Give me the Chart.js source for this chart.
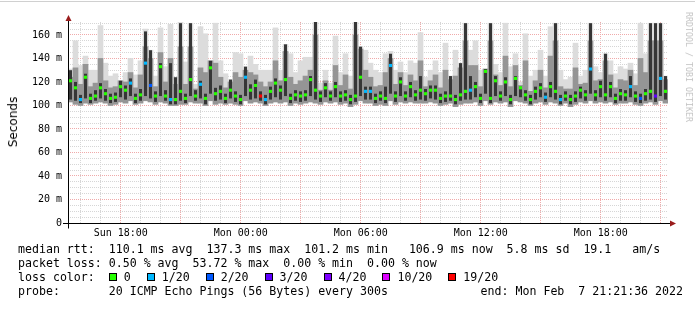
<!DOCTYPE html>
<html>
<head>
<meta charset="utf-8">
<script src="https://cdn.jsdelivr.net/npm/chart.js@4.4.1/dist/chart.umd.min.js"></script>
<style>
  html, body { margin: 0; padding: 0; background: #fff; }
  #wrap { position: relative; width: 695px; height: 309px; overflow: hidden; }
  #topline { position: absolute; left: 0; top: 1px; width: 695px; height: 1px; background: #d0d0d0; }
  canvas { position: absolute; left: 0; top: 0; }
  .txt { position: absolute; left: 18px; font: 11.6px 'DejaVu Sans Mono', monospace; white-space: pre; line-height: 14px; height: 14px; color: #000; }
  #lossrow { display: flex; align-items: center; }
  .sq { display: inline-block; width: 6px; height: 6px; border: 1px solid #000; }
  .lab { margin-left: 7px; margin-right: 16px; }
  #ytitle { position: absolute; left: 13px; top: 122px; transform: translate(-50%, -50%) rotate(-90deg); font: 12px 'DejaVu Sans', sans-serif; color: #000; white-space: nowrap; }
  #brand { position: absolute; left: 689px; top: 67px; transform: translate(-50%, -50%) rotate(90deg); font: 8.3px 'DejaVu Sans Mono', monospace; color: #c4c4c4; white-space: nowrap; }
</style>
</head>
<body>
<div id="wrap">
  <div id="topline"></div>
  <canvas id="chart" width="695" height="309"></canvas>
  <div id="ytitle">Seconds</div>
  <div id="brand">RRDTOOL / TOBI OETIKER</div>
  <div class="txt" style="top:242px">median rtt:  110.1 ms avg  137.3 ms max  101.2 ms min   106.9 ms now  5.8 ms sd  19.1   am/s</div>
  <div class="txt" style="top:256px">packet loss: 0.50 % avg  53.72 % max  0.00 % min  0.00 % now</div>
  <div class="txt" id="lossrow" style="top:270px"><span>loss color:  </span></div>
  <div class="txt" style="top:284px">probe:       20 ICMP Echo Pings (56 Bytes) every 300s</div>
  <div class="txt" style="top:284px; left:auto; right:12px">end: Mon Feb  7 21:21:36 2022</div>
</div>
<script>
// 30 hours shown, start Sun 15:21:36, one sample per 15 minutes
const sampleMinutes = 15;
const hoursShown = 30;
const firstFullHour = 0.64;   // 16:00 relative to start
const firstClockHour = 16;

const tickLabels = ['Sun 18:00', 'Mon 00:00', 'Mon 06:00', 'Mon 12:00', 'Mon 18:00'];
const tickHours = [2.64, 8.64, 14.64, 20.64, 26.64];

const lossLabels = ['0', '1/20', '2/20', '3/20', '4/20', '10/20', '19/20'];
const lossSteps = [0, 1, 2, 3, 4, 10, 19];
const lossColors = ['#26ff00', '#00b8ff', '#0059ff', '#5e00ff', '#7e00ff', '#dd00ff', '#ff0000'];

// median rtt in ms
const median = [
  121,115,105,124,106,108,115,110,106,107,116,113,119,106,109,136,117,108,133,108,
  105,105,112,106,122,108,118,106,132,110,112,106,113,108,105,124,113,117,108,105,
  112,119,113,122,106,109,108,109,122,113,108,115,108,116,108,109,105,108,124,112,
  112,106,108,106,134,108,120,108,116,109,113,110,113,113,106,108,108,105,109,112,
  113,116,106,129,106,121,108,120,105,123,115,109,105,112,115,107,116,112,105,108,
  105,108,113,109,131,109,116,109,116,106,110,109,116,108,106,110,112,108,123,112
];
// lost pings out of 20
const loss = [
  0,0,1,0,0,0,0,0,0,0,0,0,1,0,0,1,2,0,0,0,
  1,0,0,0,0,0,1,0,0,0,0,0,0,0,0,1,0,0,19,1,
  0,0,0,0,0,0,0,0,0,0,0,0,0,0,0,0,0,0,0,1,
  1,0,0,0,1,0,0,0,0,0,0,0,0,0,0,0,0,0,0,0,
  1,0,0,0,0,0,0,0,0,0,0,0,0,0,0,1,0,0,1,0,
  0,0,0,0,1,0,0,0,0,0,0,0,1,0,2,0,0,3,1,0
];
// smoke: fastest and slowest ping
const low = [
  103,101,100,102,101,102,103,102,100,101,103,102,104,101,102,104,103,101,103,102,
  100,100,101,101,103,102,102,100,104,101,102,101,102,101,100,104,102,103,102,100,
  102,103,102,103,100,102,101,102,103,102,101,103,102,103,101,102,99,101,104,102,
  102,100,101,100,104,101,103,102,103,102,102,102,103,102,100,101,102,99,101,102,
  102,103,100,104,101,103,102,103,99,104,103,102,100,102,103,101,103,102,100,102,
  99,101,103,102,104,102,103,102,103,101,102,102,103,101,100,102,103,101,104,102
];
const high = [
  131,155,134,142,130,130,168,136,125,127,121,128,140,126,138,165,147,125,166,133,
  169,124,171,137,170,118,167,161,138,170,138,127,122,145,144,133,142,135,130,130,
  130,166,130,152,144,128,138,141,141,173,119,130,119,159,128,144,125,173,150,147,
  136,130,128,144,146,130,137,128,138,136,162,124,130,138,128,153,125,147,136,170,
  147,155,130,131,170,135,128,170,133,144,120,161,125,130,147,125,167,170,130,122,
  124,153,125,130,170,133,128,144,138,127,133,131,136,127,170,144,170,170,170,125
];
// smoke: middle pings
const midHigh = [
  124,132,118,135,116,119,140,121,115,116,121,120,128,115,126,150,140,116,145,120,
  140,118,150,118,150,114,132,128,138,136,124,115,120,128,124,130,128,126,120,116,
  120,138,121,146,124,118,121,125,130,160,113,121,113,134,117,126,114,160,148,130,
  124,116,117,128,140,118,128,117,126,121,138,116,121,126,115,130,122,125,132,155,
  134,134,116,131,155,126,117,142,116,134,117,138,112,121,130,115,142,155,116,114,
  114,132,118,119,155,121,122,138,126,115,122,121,130,117,140,128,155,155,155,122
];
// smoke: densest pings around the median
const darkLow = [
  105,104,102,106,102,104,106,104,102,103,107,105,108,102,104,108,106,103,108,104,
  101,101,104,102,108,104,106,101,110,104,105,102,106,103,101,108,105,106,104,101,
  105,107,105,108,102,104,103,104,108,105,103,107,104,107,103,104,101,103,108,105,
  105,102,104,102,110,103,108,104,107,104,105,104,106,105,102,103,104,101,104,105,
  105,107,102,110,102,108,104,108,101,108,107,104,101,105,107,103,107,105,101,104,
  101,103,106,104,110,104,107,104,107,102,104,104,107,103,102,104,105,103,108,105
];
const darkHigh = [
  130,120,109,127,110,113,119,114,110,111,121,117,123,110,114,163,147,112,136,113,
  136,124,170,110,170,113,121,110,138,115,117,110,122,112,109,133,118,122,112,109,
  116,123,117,152,110,113,112,113,125,173,112,119,112,120,112,113,109,173,150,116,
  116,110,112,116,144,112,124,112,120,113,125,114,117,117,110,112,125,109,136,170,
  125,120,110,131,170,125,112,124,109,125,116,113,109,116,119,111,120,170,109,112,
  109,112,116,113,170,113,121,144,120,110,114,113,125,112,110,114,170,170,170,125
];

function sampleHour(i) {
  return (i + 0.5) * sampleMinutes / 60;
}

function lossColor(n) {
  let c = lossColors[0];
  lossSteps.forEach((s, k) => { if (n >= s) c = lossColors[k]; });
  return c;
}

// legend boxes
const row = document.getElementById('lossrow');
lossLabels.forEach((l, k) => {
  const sq = document.createElement('span');
  sq.className = 'sq';
  sq.style.background = lossColors[k];
  const lab = document.createElement('span');
  lab.className = 'lab';
  lab.textContent = l;
  row.appendChild(sq);
  row.appendChild(lab);
});

function band(a, b) {
  return a.map((v, i) => ({ x: sampleHour(i), y: [v, b[i]] }));
}

// axis lines with the red arrows
const axesPlugin = {
  id: 'axes',
  afterDatasetsDraw(chart) {
    const { ctx, chartArea: a } = chart;
    const y0 = Math.round(chart.scales.y.getPixelForValue(0)) + 0.5;
    const x0 = Math.round(a.left) + 0.5;
    ctx.save();
    ctx.strokeStyle = '#000';
    ctx.lineWidth = 1;
    ctx.beginPath();
    ctx.moveTo(a.left - 5, y0);
    ctx.lineTo(a.right + 3, y0);
    ctx.moveTo(x0, y0 + 5);
    ctx.lineTo(x0, a.top - 3);
    ctx.stroke();
    ctx.fillStyle = '#9a1c1c';
    ctx.beginPath();
    ctx.moveTo(x0 - 3, a.top - 1);
    ctx.lineTo(x0 + 3, a.top - 1);
    ctx.lineTo(x0, a.top - 7);
    ctx.fill();
    ctx.beginPath();
    ctx.moveTo(a.right + 2, y0 - 3);
    ctx.lineTo(a.right + 2, y0 + 3);
    ctx.lineTo(a.right + 8, y0);
    ctx.fill();
    ctx.restore();
  }
};

const barOpts = { grouped: false, categoryPercentage: 1, borderWidth: 0 };

new Chart(document.getElementById('chart').getContext('2d'), {
  type: 'bar',
  data: {
    datasets: [
      {
        type: 'line',
        data: median.map((v, i) => ({ x: sampleHour(i), y: v })),
        showLine: false,
        pointStyle: 'rect',
        pointRadius: 2.2,
        pointBorderWidth: 0,
        pointBackgroundColor: loss.map(lossColor),
        order: 0
      },
      Object.assign({ data: band(darkLow, darkHigh), backgroundColor: '#363636', barPercentage: 0.6, order: 1 }, barOpts),
      Object.assign({ data: band(low, midHigh), backgroundColor: '#959595', barPercentage: 1, order: 2 }, barOpts),
      Object.assign({ data: band(low, high), backgroundColor: '#dcdcdc', barPercentage: 1, order: 3 }, barOpts)
    ]
  },
  options: {
    responsive: false,
    animation: false,
    events: [],
    layout: { padding: { top: 22, right: 27, bottom: 66, left: 0 } },
    plugins: { legend: { display: false }, tooltip: { enabled: false } },
    scales: {
      x: {
        type: 'linear',
        min: 0,
        max: hoursShown,
        offset: false,
        afterFit(scale) { scale.height = 20; },
        afterBuildTicks(scale) {
          const t = [];
          for (let h = firstFullHour; h < hoursShown; h += 1) t.push({ value: h });
          scale.ticks = t;
        },
        grid: {
          offset: false,
          drawTicks: false,
          color(c) {
            const hour = Math.round(c.tick.value - firstFullHour) + firstClockHour;
            return hour % 3 === 0 ? '#f0aaaa' : '#d6d6d6';
          }
        },
        border: { display: false, dash: [1, 1] },
        ticks: {
          autoSkip: false,
          maxRotation: 0,
          padding: 4,
          color: '#000',
          font: { family: 'DejaVu Sans Mono', size: 10 },
          callback(value) {
            const j = tickHours.findIndex(h => Math.abs(h - value) < 1e-6);
            return j >= 0 ? tickLabels[j] : '';
          }
        }
      },
      y: {
        min: 0,
        max: 171,
        afterFit(scale) { scale.width = 68; },
        grid: {
          drawTicks: false,
          color(c) {
            if (c.tick.value === 0) return 'rgba(0,0,0,0)';
            return c.tick.value % 20 === 0 ? '#f0aaaa' : '#d6d6d6';
          }
        },
        border: { display: false, dash: [1, 1] },
        ticks: {
          stepSize: 5,
          includeBounds: false,
          autoSkip: false,
          padding: 6,
          color: '#000',
          font: { family: 'DejaVu Sans Mono', size: 10 },
          callback(v) {
            if (v % 20 !== 0) return '';
            return v === 0 ? '0' : v + ' m';
          }
        }
      }
    }
  },
  plugins: [axesPlugin]
});
</script>
</body>
</html>
